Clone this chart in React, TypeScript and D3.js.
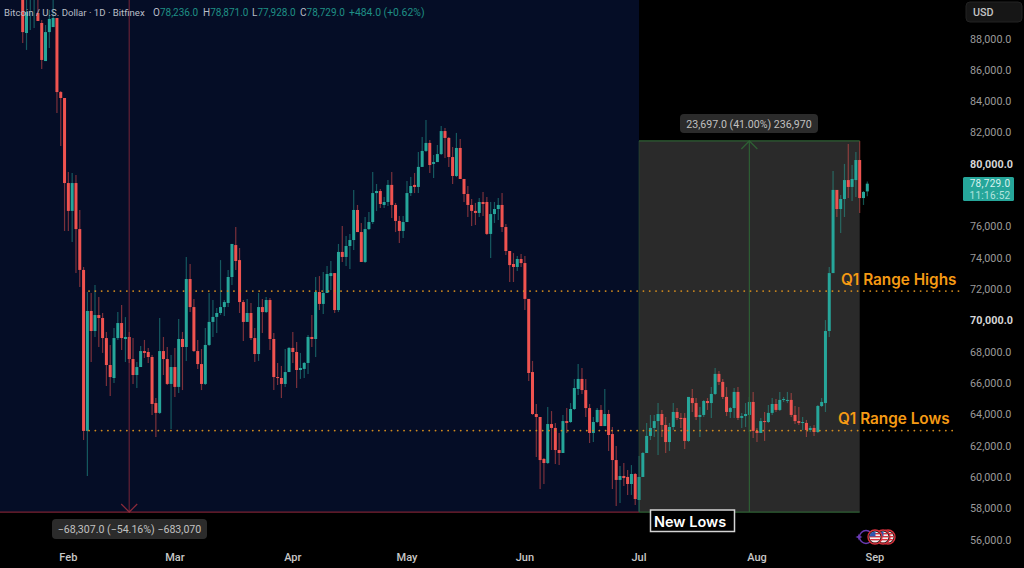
import React from 'react';
import * as d3 from 'd3';

// daily candles, first one is Jan 20
const opens = [
  90780,88350,90720,90650,89630,88990,86560,88410,88730,89310,
  84580,84200,78770,76990,78770,75830,73220,62940,70600,69320,
  70340,70150,68870,67150,66320,68870,69830,68810,68940,67530,
  66510,67020,68040,67980,67660,64720,64090,68040,67530,65940,
  67020,65750,68810,68300,72640,70850,68040,67210,65940,68430,
  69900,70220,70470,70850,71110,72770,74810,73850,71170,69900,
  70470,68870,67850,70850,70530,71300,68810,66380,66320,65940,
  66700,68240,67980,66830,66900,67280,68940,68810,71810,71050,
  71750,72830,73020,70660,74370,74050,74750,75130,77050,75640,
  73730,75830,76280,78130,78260,77370,77560,78650,77370,76350,
  75710,76280,78130,78650,78520,79800,80820,81330,79990,80110,
  80620,82090,81650,80430,79220,81010,79030,78070,77370,76990,
  76860,77560,77560,75520,76790,77110,77370,75960,74430,73600,
  73410,73920,73660,71370,66700,64020,63830,61150,60890,63380,
  63130,61720,61530,63570,63510,64340,65620,66260,65550,64400,
  62810,63510,64280,63250,64020,62740,61080,59810,60060,60000,
  59550,60190,58530,60000,61530,62620,63130,63570,64020,63320,
  62230,63190,64150,63770,63770,62300,65040,64720,63830,63960,
  64850,64720,65300,66580,66070,65110,64150,64400,65430,63770,
  63890,63960,64790,62940,62810,63570,63510,64090,64660,64280,
  64920,64850,64920,63960,63570,63450,63450,63000,63130,62870,
  64530,64720,69320,73020,78330,77110,77750,78960,78520,78960,80240,77810,78236,
];
const highs = [
  91100,90590,91400,91400,90780,89180,88860,89820,90460,89310,
  84650,84200,79470,79410,79280,77050,73410,71810,71750,72260,
  71490,70470,69260,68430,69510,70540,70980,70210,69260,68870,
  67340,68370,68750,68240,67790,65040,70150,68940,68300,67790,
  68240,70090,69260,74050,73600,71370,68750,68170,69510,71750,
  71300,70790,73850,71300,73220,74880,75960,74620,71300,71370,
  71110,69510,71750,71370,71490,71430,69190,67280,67090,68170,
  68300,69260,68620,67920,67340,69070,70340,72770,72830,73090,
  73470,73790,73020,74880,76030,75390,75520,78320,77370,76220,
  76600,76920,79470,78710,78390,77880,78960,79470,77500,76660,
  76660,78900,79150,79410,80750,81710,82800,81520,80560,81200,
  82410,82290,81710,81070,81970,81580,79030,78580,77750,77500,
  77810,78200,77880,77560,77560,77810,78130,76150,74430,74300,
  74110,74240,74110,71370,67410,64660,63830,61210,64470,64210,
  63450,62810,63960,64400,64720,66260,67210,66960,66260,64660,
  63830,64400,64600,65620,64280,63190,61980,60700,60890,60440,
  60760,60250,61340,61590,63450,63960,63960,64720,64280,63830,
  63450,64720,64400,64080,64080,65110,65620,65040,64470,64920,
  65040,65740,66960,66770,66260,65740,64470,65680,65740,64080,
  64720,65110,65430,63130,63770,64150,64600,65040,64980,65430,
  65110,65430,65360,64530,64470,63830,63640,63260,63320,64600,
  65040,70020,73410,79540,78330,78010,79990,81260,79920,80750,81450,78260,78871,
];
const lows = [
  87710,87270,88540,88670,89120,86050,86560,87390,88730,83240,
  81130,75710,75710,75000,73020,72130,62360,60060,67340,68940,
  68300,67920,65810,65170,66000,68750,68110,67340,67280,65940,
  65680,67020,67600,67280,63960,62550,64020,66510,65870,63060,
  65110,65360,65550,67410,70530,67980,66900,65550,65870,68360,
  68940,69190,70340,70280,70850,72260,73220,70470,68680,69900,
  68750,67340,67410,69190,70470,68110,65550,65870,65040,65750,
  66700,67280,65680,66260,66320,66580,68300,67660,70660,70410,
  71750,71940,70470,70530,73730,73470,73280,74490,75640,73730,
  73660,75770,76150,76980,77180,77180,77300,76540,75640,74940,
  75260,76280,77940,78130,78130,79800,80750,79410,79090,80110,
  80560,80370,79800,78710,79150,79030,77560,76600,76030,76090,
  76600,76660,75450,73980,76220,76410,75640,74180,72450,72450,
  73150,73410,70660,66130,63960,61280,59230,59550,60830,61720,
  60830,60760,61530,62810,63450,64280,65230,65300,63830,62170,
  62230,63450,63250,63250,61660,59230,58150,58340,59420,58850,
  58850,58210,57760,60000,61530,62360,62550,61400,62550,61530,
  61660,63000,63640,63130,61790,62230,64150,63640,62550,63830,
  64280,63770,65230,65870,64980,63890,63770,63770,63640,63130,
  63190,62870,62490,62230,62810,62300,63450,63960,64150,64210,
  64790,64720,63830,63380,63320,63000,62550,62870,62620,62810,
  64470,64150,68940,73020,76600,75580,76600,77810,77620,77880,76860,77370,77928,
];
const closes = [
  88410,89690,90970,90970,89120,86630,88410,89250,89310,84580,
  84200,78770,76990,78770,75830,73220,62940,70600,69320,70340,
  70150,68870,67150,66380,68870,69830,68870,68940,67530,66510,
  67020,68040,67920,67660,64660,64090,68040,67530,65940,67020,
  65750,68810,68300,72640,70850,68040,67210,65940,68430,69900,
  70220,70470,70850,71170,72770,74880,73790,71170,69900,70470,
  68870,67850,70850,70530,71300,68810,66380,66320,65940,66700,
  68240,67980,66830,66960,67280,68940,68810,71810,71050,71750,
  72960,73020,70660,74370,74050,74750,75130,77050,75640,73730,
  75830,76280,78130,78260,77430,77560,78650,77370,76350,75710,
  76280,78130,78580,78520,79800,80820,81330,79920,80110,80620,
  82090,81650,80430,79220,81010,79030,78070,77370,76990,76860,
  77560,77430,75520,76790,77110,77370,75960,74430,73530,73410,
  73920,73660,71370,66640,64020,63830,61080,60890,63380,63130,
  61720,61530,63570,63450,64340,65680,66260,65550,64400,62810,
  63510,64280,63250,64020,62680,61080,59810,60060,59930,59550,
  60190,58590,60000,61530,62620,63130,63570,64020,63320,62230,
  63190,64150,63770,63700,62300,65110,64720,63830,63960,64850,
  64720,65300,66580,66070,65110,64150,64400,65430,63770,63890,
  64020,64790,62940,62810,63570,63510,64090,64660,64280,64920,
  64980,64920,63960,63570,63450,63510,63000,63130,62870,64530,
  64790,69320,73020,78330,77110,77750,78960,78520,79030,80240,77810,78200,78729,
];

const priceTicks = d3.range(56000, 90000, 2000).filter(v => v !== 78000);
const boldTicks = [70000, 80000];
const monthTicks = ['Feb', 'Mar', 'Apr', 'May', 'Jun', 'Jul', 'Aug', 'Sep'];

const firstDay = Date.UTC(2025, 0, 20);
const lastDay = Date.UTC(2025, 7, 30);
const q1High = 71870;
const q1Low = 62960;
const measureLow = 57760;
const measureHigh = 81457;

const UP = '#26a69a';
const DOWN = '#ef5350';
const ORANGE = '#f59a14';
const FONT = 'Roboto, "Noto Sans", sans-serif';
const LABEL_FONT = 'Inter, "Noto Sans", sans-serif';

const x = d3.scaleUtc().domain([firstDay, lastDay]).range([22.7, 867.3]);
const y = d3.scaleLinear().domain([56000, 88000]).range([539.6, 38.5]);
const dayOf = (i: number) => d3.utcDay.offset(new Date(firstDay), i);
const fmt = d3.format(',.1f');

const boxLeft = x(dayOf(162));
const boxRight = x(dayOf(220));
const greenX = x(dayOf(191));
const redX = x(Date.UTC(2025, 1, 17));
const floorY = y(measureLow);
const topY = y(measureHigh);

const Flag: React.FC<{ cx: number; cy: number; id: string }> = ({ cx, cy, id }) => (
  <g>
    <clipPath id={id}><circle cx={cx} cy={cy} r={5.5} /></clipPath>
    <circle cx={cx} cy={cy} r={7} fill="#111" stroke="#d8313c" strokeWidth={1.4} />
    <g clipPath={`url(#${id})`}>
      <rect x={cx - 6} y={cy - 6} width={12} height={12} fill="#f2f2f2" />
      {[-4, -1, 2, 5].map(d => <rect key={d} x={cx - 6} y={cy + d} width={12} height={1.4} fill="#d8313c" />)}
      <rect x={cx - 6} y={cy - 6} width={6.5} height={5.5} fill="#2f56b0" />
    </g>
  </g>
);

const App: React.FC = () => {
  const bars = d3.range(opens.length);
  const bw = 3;
  return (
    <svg width={1024} height={568} viewBox="0 0 1024 568"
      style={{ position: 'absolute', left: 0, top: 0, display: 'block', background: '#000' }}
      fontFamily={FONT}>
      <rect x={0} y={0} width={boxLeft} height={floorY} fill="#050d26" />
      <rect x={boxLeft} y={topY} width={boxRight - boxLeft} height={floorY - topY} fill="#2a2a2a" />

      {/* candles */}
      <g>
        {bars.map(i => {
          const cx = x(dayOf(i));
          const up = closes[i] >= opens[i];
          const top = y(Math.max(opens[i], closes[i]));
          const bot = y(Math.min(opens[i], closes[i]));
          return (
            <g key={i}>
              <line x1={cx} x2={cx} y1={y(highs[i])} y2={y(lows[i])}
                stroke={up ? UP : DOWN} strokeOpacity={0.5} strokeWidth={1.2} />
              <rect x={cx - bw / 2} y={top} width={bw} height={Math.max(bot - top, 1)} fill={up ? UP : DOWN} />
            </g>
          );
        })}
      </g>

      {/* measure tools */}
      <line x1={0} x2={boxLeft} y1={floorY} y2={floorY} stroke="#7a2233" strokeWidth={1.2} />
      <line x1={redX} x2={redX} y1={0} y2={floorY} stroke="#a8303f" strokeOpacity={0.55} strokeWidth={1.3} />
      <path d={`M${redX - 8},${floorY - 8}L${redX},${floorY}L${redX + 8},${floorY - 8}`} fill="none" stroke="#8a2a3a" strokeWidth={1.2} />
      <line x1={boxLeft} x2={boxRight} y1={topY} y2={topY} stroke="#2f6035" strokeWidth={1.2} />
      <line x1={boxLeft} x2={boxRight} y1={floorY} y2={floorY} stroke="#2f6035" strokeWidth={1.2} />
      <line x1={boxLeft} x2={boxLeft} y1={topY} y2={floorY} stroke="#2f6035" strokeOpacity={0.5} strokeWidth={1} />
      <line x1={greenX} x2={greenX} y1={topY} y2={floorY} stroke="#2f6035" strokeWidth={1.2} />
      <path d={`M${greenX - 8},${topY + 8}L${greenX},${topY}L${greenX + 8},${topY + 8}`} fill="none" stroke="#2f6035" strokeWidth={1.2} />

      <rect x={680} y={114} width={138} height={19} rx={4} fill="#2b2b2b" />
      <text x={749} y={127.5} textAnchor="middle" fontSize={10.6} fill="#c0c0c0">23,697.0 (41.00%) 236,970</text>
      <rect x={52} y={519} width={155} height={20} rx={4} fill="#2b2b2b" />
      <text x={129.5} y={533} textAnchor="middle" fontSize={10.6} fill="#c0c0c0">−68,307.0 (−54.16%) −683,070</text>

      {/* Q1 range */}
      <line x1={89} x2={960} y1={y(q1High)} y2={y(q1High)} stroke="#d08a1e" strokeWidth={1.8}
        strokeLinecap="round" strokeDasharray="0.1 6.2" />
      <line x1={89} x2={953} y1={y(q1Low)} y2={y(q1Low)} stroke="#d08a1e" strokeWidth={1.8}
        strokeLinecap="round" strokeDasharray="0.1 6.2" />
      <text x={841} y={285} fontFamily={LABEL_FONT} fontSize={15.3} fontWeight={600} fill={ORANGE}>Q1 Range Highs</text>
      <text x={838} y={424} fontFamily={LABEL_FONT} fontSize={15.3} fontWeight={600} fill={ORANGE}>Q1 Range Lows</text>

      <rect x={650.5} y={510} width={84} height={21.5} fill="#000" stroke="#d4d4d4" strokeWidth={1.5} />
      <text x={654} y={526.5} fontFamily={LABEL_FONT} fontSize={14.5} fontWeight={600} fill="#fff">New Lows</text>

      {/* header */}
      <text x={4} y={16} fontSize={9.6} fill="#b9bdc6">Bitcoin / U.S. Dollar · 1D · Bitfinex</text>
      <text y={16} fontSize={10} fill="#b9bdc6">
        <tspan x={153}>O</tspan><tspan fill="#1f8f85">78,236.0</tspan>
        <tspan x={203}>H</tspan><tspan fill="#1f8f85">78,871.0</tspan>
        <tspan x={252}>L</tspan><tspan fill="#1f8f85">77,928.0</tspan>
        <tspan x={300}>C</tspan><tspan fill="#1f8f85">78,729.0</tspan>
      </text>
      <text x={349} y={16} fontSize={10.4} fill="#1f8f85">+484.0 (+0.62%)</text>

      {/* price axis */}
      <rect x={966} y={2} width={56} height={20} rx={4} fill="#161616" stroke="#222" />
      <text x={973} y={16} fontSize={10.8} fontWeight={500} fill="#c4c4c4">USD</text>
      {priceTicks.map(v => (
        <text key={v} x={970} y={y(v) + 4} fontSize={10.8}
          fontWeight={boldTicks.includes(v) ? 700 : 400}
          fill={boldTicks.includes(v) ? '#d6d6d6' : '#9a9a9a'}>{fmt(v)}</text>
      ))}
      <rect x={963} y={177} width={51} height={24} rx={1.5} fill={UP} />
      <text x={990} y={187} textAnchor="middle" fontSize={10} letterSpacing={0.3} fill="#d8f3f0">{fmt(closes[closes.length - 1])}</text>
      <text x={990} y={198.5} textAnchor="middle" fontSize={10} letterSpacing={0.3} fill="#b4e4df">11:16:52</text>

      {/* time axis */}
      {monthTicks.map((m, i) => (
        <text key={m} x={x(Date.UTC(2025, i + 1, 1))} y={561} textAnchor="middle" fontSize={11}
          fontWeight={500} fill="#c8c8c8">{m}</text>
      ))}

      {/* event icons */}
      <circle cx={866} cy={537} r={6.5} fill="none" stroke="#6a3bb5" strokeWidth={1.4} />
      <path d="M859,533.5l1.1,2.4l2.4,1.1l-2.4,1.1l-1.1,2.4l-1.1,-2.4l-2.4,-1.1l2.4,-1.1z" fill="#6a3bb5" />
      <Flag cx={888} cy={537} id="flag-c" />
      <Flag cx={883} cy={537} id="flag-b" />
      <Flag cx={875} cy={537} id="flag-a" />
    </svg>
  );
};

export default App;
